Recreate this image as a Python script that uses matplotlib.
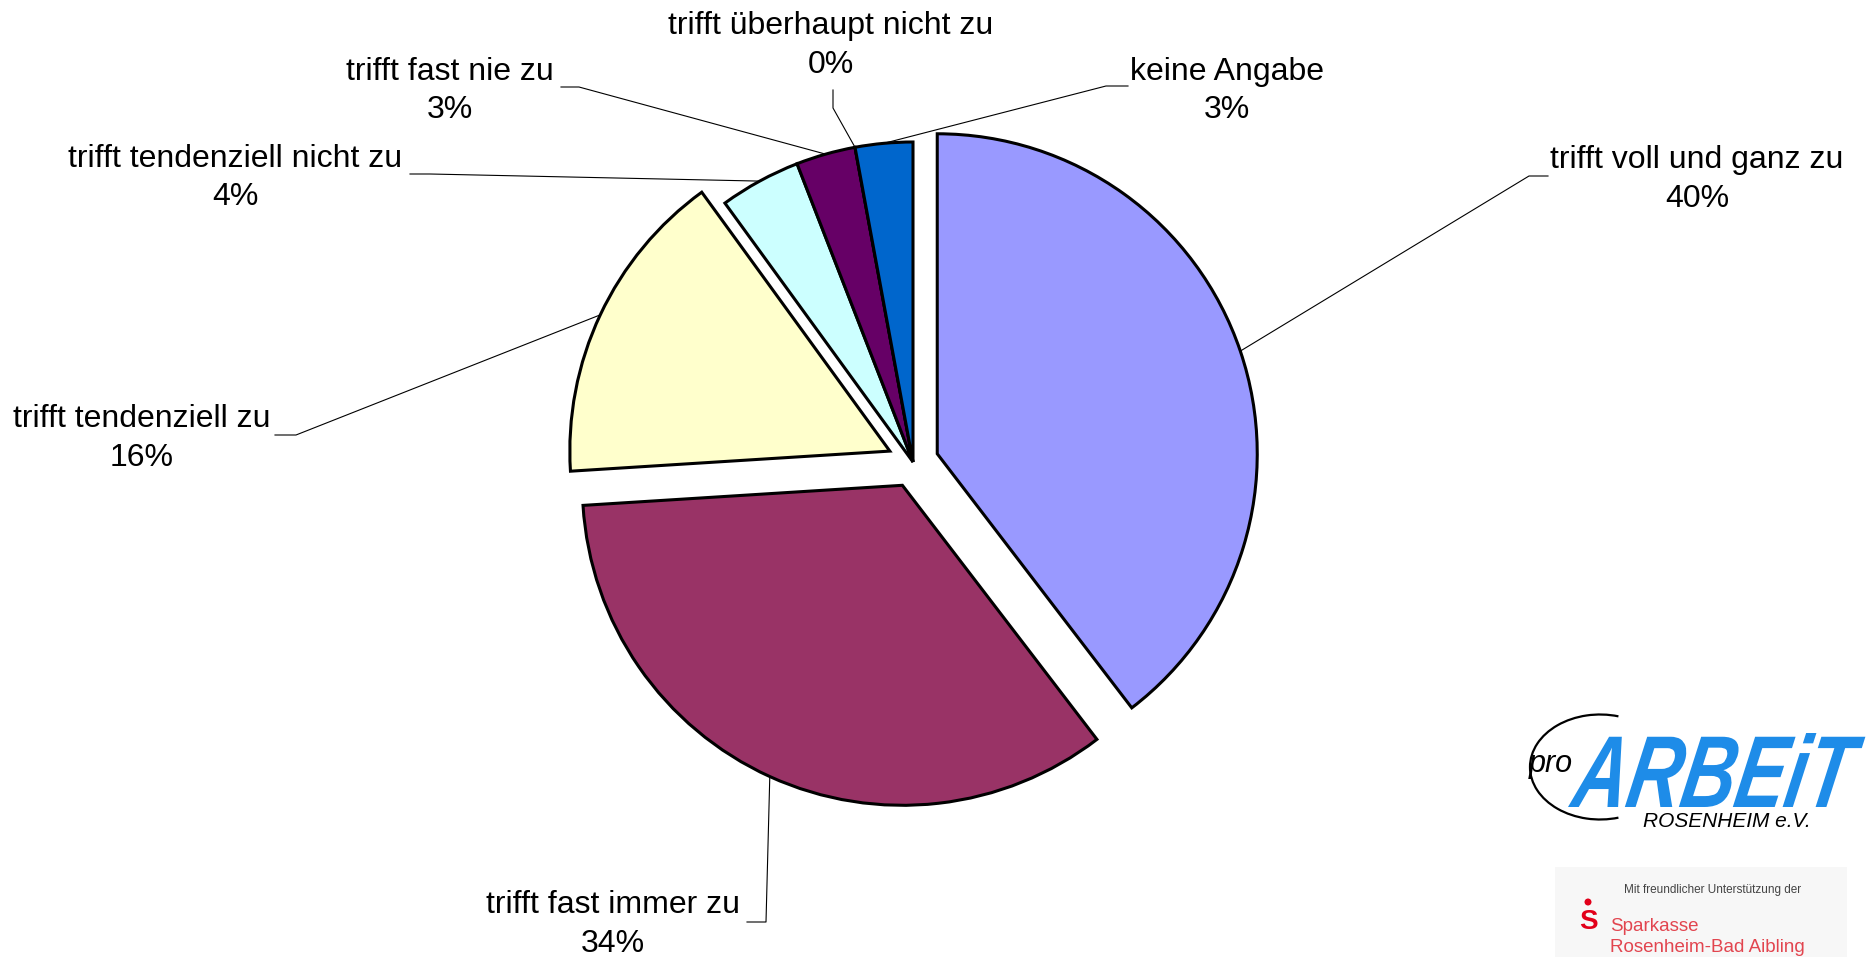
import numpy as np
import matplotlib
matplotlib.use("Agg")
import matplotlib.pyplot as plt
from matplotlib.patches import Arc, Rectangle, PathPatch, Circle
from matplotlib.textpath import TextPath
from matplotlib.font_manager import FontProperties
from matplotlib.transforms import Affine2D

plt.rcParams['font.family'] = ['Liberation Sans', 'DejaVu Sans']

# data
categories = ["trifft voll und ganz zu", "trifft fast immer zu", "trifft tendenziell zu",
              "trifft tendenziell nicht zu", "trifft fast nie zu",
              "trifft überhaupt nicht zu", "keine Angabe"]
shares = [39.6, 34.4, 16.0, 4.1, 3.0, 0.0, 2.9]
colors = ["#9999FF", "#993366", "#FFFFCC", "#CCFFFF", "#660066", "#FF8080", "#0066CC"]
explode = [0.08, 0.08, 0.08, 0, 0, 0, 0]

W, H = 1867, 957
R = 320
def fy(y):
    # pixel row from top -> data y
    return H - y

# label layout: text centre x, baseline line1, baseline line2, leader start/elbow
label_pos = [(1697, 168, 207), (613, 913, 952), (142, 427, 466), (235, 167, 205),
             (450, 80, 118), (831, 34, 73), (1227, 80, 118)]
elbows = [[(1548, 176), (1529, 176)], [(747, 922), (766, 922)], [(275, 435), (296, 435)],
          [(410, 174), (430, 174)], [(561, 87), (579, 87)], [(833, 90), (833, 108)],
          [(1128, 86), (1106, 86)]]

fig = plt.figure(figsize=(W / 100, H / 100), dpi=100)
ax = fig.add_axes([0, 0, 1, 1])

# pie's explode is in data units, so scale by the radius
wedges, _ = ax.pie(shares, colors=colors, explode=[e * R for e in explode],
                   startangle=90, counterclock=False,
                   center=(913, fy(462)), radius=R,
                   wedgeprops=dict(edgecolor='black', linewidth=2.2))

for w, cat, v, (tx, b1, b2), el in zip(wedges, categories, shares, label_pos, elbows):
    ax.text(tx, fy(b1), cat, ha='center', va='baseline', fontsize=23)
    ax.text(tx, fy(b2), f"{v:.0f}%", ha='center', va='baseline', fontsize=23)
    th = np.deg2rad((w.theta1 + w.theta2) / 2)
    ex = w.center[0] + w.r * np.cos(th)
    ey = w.center[1] + w.r * np.sin(th)
    xs = [p[0] for p in el] + [ex]
    ys = [fy(p[1]) for p in el] + [ey]
    ax.plot(xs, ys, color='black', lw=0.8, zorder=0.5)

# proARBEIT logo
ax.add_patch(Arc((1600, fy(767)), 140, 105, theta1=70, theta2=290, color='black', lw=1.6))
ax.text(1551, fy(772), "pro", ha='center', va='baseline', fontsize=22, style='italic')
tp = TextPath((0, 0), "ARBEiT", size=1,
              prop=FontProperties(family='Liberation Sans', weight='bold', style='italic'))
bb = tp.get_extents()
sx = 285 / bb.width
sy = 74 / bb.height
tr = Affine2D().translate(-bb.x0, -bb.y0).scale(sx, sy).skew_deg(10, 0).translate(1568, fy(807))
ax.add_patch(PathPatch(tr.transform_path(tp), color='#1E8CE8', lw=0))
ax.text(1727, fy(827), "ROSENHEIM e.V.", ha='center', va='baseline', fontsize=15, style='italic')

# Sparkasse box
ax.add_patch(Rectangle((1555, 0), 292, fy(867), color='#F7F7F7', lw=0))
ax.text(1713, fy(893), "Mit freundlicher Unterstützung der", ha='center', va='baseline',
        fontsize=8.5, color='#444444')
ax.text(1588, fy(929), "S", ha='center', va='baseline', fontsize=20, fontweight='bold',
        color='#E2001A')
ax.add_patch(Circle((1588, fy(902)), 3.5, color='#E2001A', lw=0))
ax.text(1610, fy(931), "Sparkasse", ha='left', va='baseline', fontsize=13.5, color='#E2454F')
ax.text(1610, fy(952), "Rosenheim-Bad Aibling", ha='left', va='baseline', fontsize=13.5,
        color='#E2454F')

ax.set_xlim(0, W)
ax.set_ylim(0, H)
ax.set_aspect('equal')
ax.axis('off')

fig.savefig("out.png", dpi=100, facecolor='white')
